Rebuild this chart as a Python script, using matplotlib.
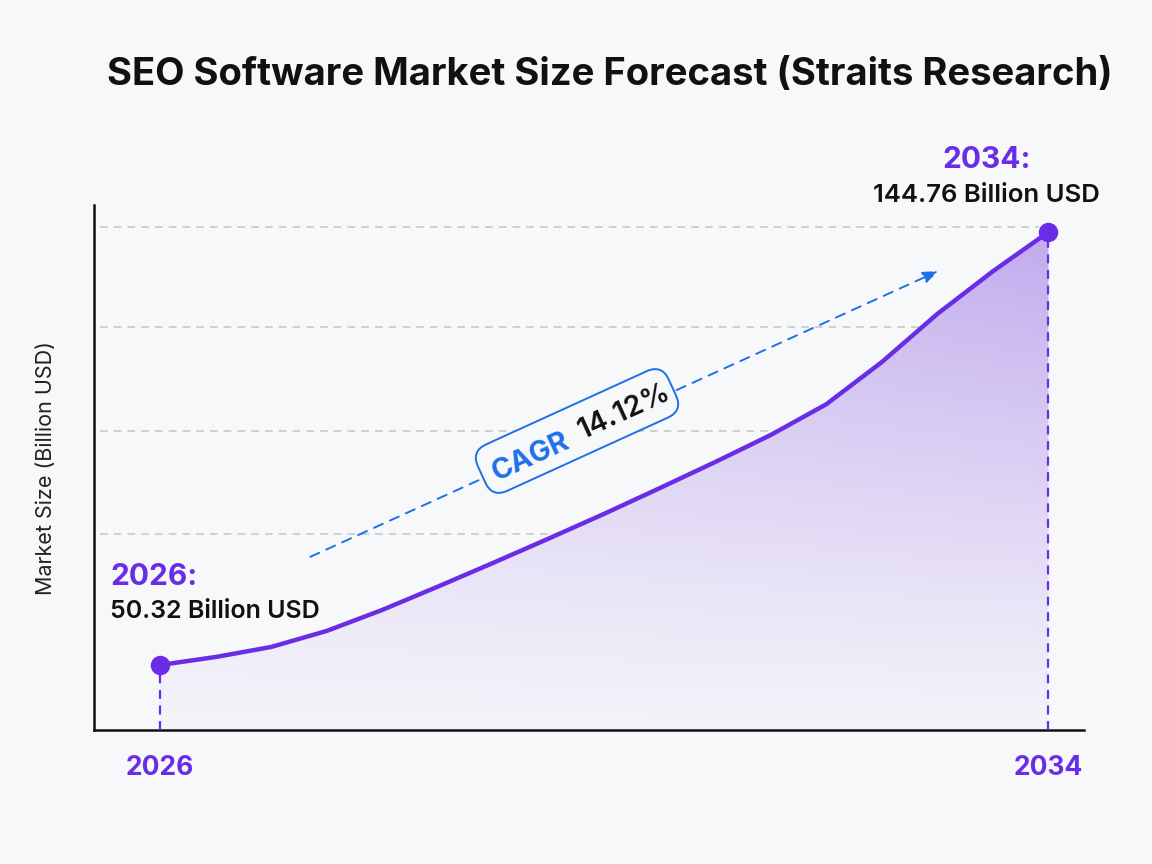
import numpy as np
import matplotlib
matplotlib.use("Agg")
import matplotlib.pyplot as plt
from matplotlib.patches import PathPatch

# values every half year
year_points = [2026.0, 2026.5, 2027.0, 2027.5, 2028.0, 2028.5, 2029.0, 2029.5, 2030.0,
               2030.5, 2031.0, 2031.5, 2032.0, 2032.5, 2033.0, 2033.5, 2034.0]
market_size = [50.32, 52.06, 54.25, 57.74, 62.32, 67.4, 72.6, 77.9, 83.3,
               88.9, 94.6, 100.5, 107.2, 116.4, 126.9, 136.2, 144.76]
grid_values = [78.9, 101.4, 124.0, 145.8]
start_year, end_year = 2026, 2034
cagr_text = "14.12%"
start_label = "50.32 Billion USD"
end_label = "144.76 Billion USD"

BG = "#f7f8fa"
PURPLE = "#6a2de6"
BLUE = "#1f6fe8"

plt.rcParams["font.family"] = ["Inter", "DejaVu Sans"]

fig = plt.figure(figsize=(11.52, 8.64), dpi=100, facecolor=BG)
ax = fig.add_axes([94 / 1152, 1 - 730 / 864, 990 / 1152, 525 / 864])
ax.set_facecolor(BG)

x0, x1 = 2025.405, 2034.32
y0, y1 = 36.14, 150.65
ax.set_xlim(x0, x1)
ax.set_ylim(y0, y1)

# grid lines
for g in grid_values:
    ax.axhline(g, xmin=0.006, xmax=0.955, color="#c4c4c4", lw=1.1,
               ls=(0, (5, 4)), zorder=1)

# gradient fill under the curve
nx, ny = 300, 300
gx = np.linspace(0, 1, nx)
gy = np.linspace(0, 1, ny)
GX, GY = np.meshgrid(gx, gy)
alpha = 0.03 + 0.50 * GY ** 1.1 * (0.6 + 0.4 * GX)
bg = np.array([247, 248, 250]) / 255
col = np.array([140, 95, 225]) / 255
img = bg[None, None, :] * (1 - alpha[..., None]) + col[None, None, :] * alpha[..., None]
im = ax.imshow(img, extent=[start_year, end_year, y0, y1], origin="lower",
               aspect="auto", zorder=2, interpolation="bilinear")
poly = ax.fill_between(year_points, market_size, y0, color="none", lw=0)
clip_path = poly.get_paths()[0]
patch = PathPatch(clip_path, transform=ax.transData, facecolor="none", edgecolor="none")
ax.add_patch(patch)
im.set_clip_path(patch)

# line and points
ax.plot(year_points, market_size, color=PURPLE, lw=3.2, zorder=4,
        solid_capstyle="round", solid_joinstyle="round")
ax.plot([year_points[0], year_points[-1]], [market_size[0], market_size[-1]], "o",
        color=PURPLE, ms=13, zorder=5)
ax.vlines([year_points[0], year_points[-1]], y0, [market_size[0], market_size[-1]],
          colors=PURPLE, linestyles=(0, (4, 3)), lw=1.6, zorder=3)

# spines
for s in ["top", "right"]:
    ax.spines[s].set_visible(False)
for s in ["left", "bottom"]:
    ax.spines[s].set_linewidth(1.8)
    ax.spines[s].set_color("#111111")
ax.set_xticks([start_year, end_year])
ax.set_xticklabels([str(start_year), str(end_year)], color=PURPLE,
                   fontsize=19, fontweight="bold")
ax.tick_params(axis="x", length=0, pad=18)
ax.set_yticks([])
ax.set_ylabel("Market Size (Billion USD)", fontsize=15.5, color="#222222", labelpad=27)

# annotations
ax.text(2025.55, 69.5, f"{start_year}:", color=PURPLE, fontsize=21.5, fontweight="bold",
        ha="left", va="center")
ax.text(2025.55, 61.9, start_label, color="#111111", fontsize=18, fontweight="semibold",
        ha="left", va="center")
ax.text(2033.44, 160.5, f"{end_year}:", color=PURPLE, fontsize=21.5, fontweight="bold",
        ha="center", va="center", clip_on=False)
ax.text(2033.44, 152.8, end_label, color="#111111", fontsize=18.5, fontweight="semibold",
        ha="center", va="center", clip_on=False)

# CAGR arrow
ax.annotate("", xy=(2033.03, 136.5), xytext=(2027.33, 73.66),
            arrowprops=dict(arrowstyle="-|>,head_length=0.9,head_width=0.35",
                            color=BLUE, lw=1.4, ls=(0, (5, 4))), zorder=6)

ang = 24.5
fig.text(577 / 1152, 1 - 431 / 864, "CAGR 14.12%", fontsize=20, fontweight="bold",
         color=(0, 0, 0, 0), rotation=ang, rotation_mode="anchor",
         ha="center", va="center", zorder=7,
         bbox=dict(boxstyle="round,pad=0.45,rounding_size=0.6", fc=BG, ec=BLUE, lw=1.4))
fig.text(531 / 1152, 1 - 457 / 864, "CAGR", fontsize=20.5, fontweight="bold", color=BLUE,
         rotation=ang, rotation_mode="anchor", ha="center", va="center", zorder=8)
fig.text(624 / 1152, 1 - 412 / 864, cagr_text, fontsize=20.5, fontweight="semibold",
         color="#111111", rotation=ang, rotation_mode="anchor",
         ha="center", va="center", zorder=8)

fig.text(610 / 1152, 1 - 75 / 864, "SEO Software Market Size Forecast (Straits Research)",
         fontsize=27.5, fontweight="bold", color="#111111", ha="center", va="center")

fig.savefig("out.png", dpi=100, facecolor=BG)
